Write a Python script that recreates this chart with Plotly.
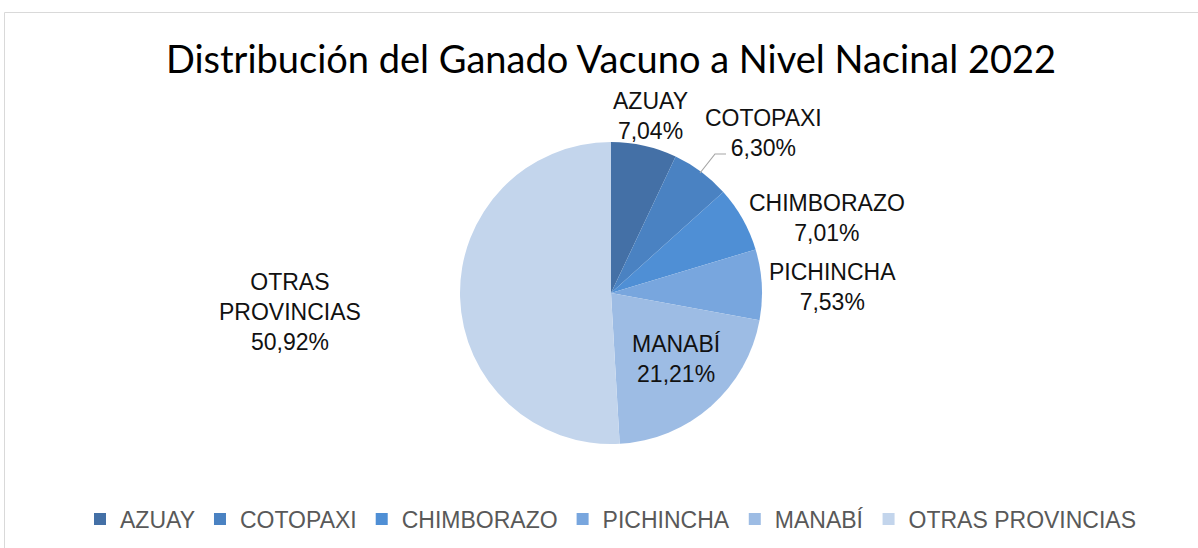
import plotly.graph_objects as go

categories = ["AZUAY", "COTOPAXI", "CHIMBORAZO", "PICHINCHA", "MANABÍ", "OTRAS PROVINCIAS"]
values = [7.04, 6.30, 7.01, 7.53, 21.21, 50.92]
colors = ["#4470A6", "#4A82C2", "#4F8FD5", "#78A6DE", "#9DBCE4", "#C3D5EC"]
label_lines = ["AZUAY", "COTOPAXI", "CHIMBORAZO", "PICHINCHA", "MANABÍ", "OTRAS<br>PROVINCIAS"]

W, H = 1198, 548
cx, cy, r = 611, 293, 151

fig = go.Figure(go.Pie(
    labels=categories, values=values, sort=False, direction="clockwise", rotation=0,
    marker=dict(colors=colors, line=dict(color="#FFFFFF", width=0)),
    textinfo="none", hoverinfo="label+percent",
    domain=dict(x=[(cx - r) / W, (cx + r) / W], y=[(H - cy - r) / H, (H - cy + r) / H]),
))

# label positions (pixels) for each category
label_pos = [(650, 116), (763, 133), (827, 218), (832, 287), (676, 359), (290, 312)]
for lab, v, (px, py) in zip(label_lines, values, label_pos):
    txt = f"{lab}<br>{v:.2f}%".replace(".", ",")
    fig.add_annotation(x=px / W, y=1 - py / H, xref="paper", yref="paper", text=txt,
                       showarrow=False, font=dict(family="Liberation Sans, Arial", size=23, color="#111111"),
                       xanchor="center", yanchor="middle", align="center")

# leader line for COTOPAXI
fig.add_shape(type="path", xref="paper", yref="paper",
              path=f"M {700/W},{1-173/H} L {715/W},{1-154/H} L {726/W},{1-154/H}",
              line=dict(color="#A6A6A6", width=1.2))

# chart border
fig.add_shape(type="rect", xref="paper", yref="paper", x0=4.5 / W, x1=1.05, y0=-0.05, y1=1 - 12.5 / H,
              line=dict(color="#D9D9D9", width=1), fillcolor="rgba(0,0,0,0)")

fig.update_layout(
    width=W, height=H,
    margin=dict(l=0, r=0, t=0, b=0),
    paper_bgcolor="#FFFFFF", plot_bgcolor="#FFFFFF",
    title=dict(text="Distribución del Ganado Vacuno a Nivel Nacinal 2022", x=611 / W, xanchor="center",
               y=1 - 60 / H, yanchor="middle",
               font=dict(family="Lato", size=38, color="#000000")),
    showlegend=True,
    legend=dict(orientation="h", x=611 / W, xanchor="center", y=1 - 519 / H, yanchor="middle",
                font=dict(family="Liberation Sans, Arial", size=23, color="#595959"),
                itemwidth=30, tracegroupgap=0),
)

fig.write_html("out.html", config={"displayModeBar": False},
               post_script="document.body.style.margin='0px';document.body.style.padding='0px';")
